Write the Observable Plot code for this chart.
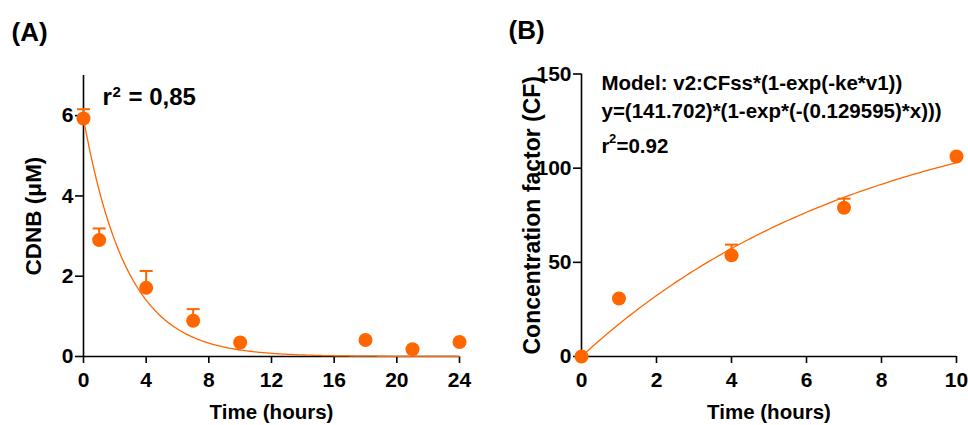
<!DOCTYPE html>
<html>
<head>
<meta charset="utf-8">
<script src="https://cdn.jsdelivr.net/npm/d3@7"></script>
<script src="https://cdn.jsdelivr.net/npm/@observablehq/plot@0.6"></script>
<style>
  html, body { margin: 0; padding: 0; background: #fff; }
  #wrap { display: flex; width: 968px; height: 425px; overflow: hidden; }
  #wrap svg { overflow: visible; }
</style>
</head>
<body>
<div id="wrap"><div id="a"></div><div id="b"></div></div>
<script>
// ---------- Panel A data ----------
const timeA = [0, 1, 4, 7, 10, 18, 21, 24];
const cdnb = [5.93, 2.90, 1.71, 0.89, 0.35, 0.41, 0.18, 0.36];
const cdnbErr = [0.23, 0.29, 0.42, 0.29, 0, 0, 0, 0];
const xTicksA = [0, 4, 8, 12, 16, 20, 24];
const yTicksA = [0, 2, 4, 6];
const fitA = {y0: 5.93, k: 0.36};
const r2A = ["r", "2", "= 0,85"];

// ---------- Panel B data ----------
const timeB = [0, 1, 4, 7, 10];
const cf = [0, 30.8, 53.7, 79.0, 106.2];
const cfErr = [0, 0, 5.7, 4.8, 0];
const xTicksB = [0, 2, 4, 6, 8, 10];
const yTicksB = [0, 50, 100, 150];
const fitB = {cfss: 141.702, ke: 0.129595};
const modelLines = [
  "Model: v2:CFss*(1-exp(-ke*v1))",
  "y=(141.702)*(1-exp*(-(0.129595)*x)))"
];
const r2B = ["r", "2", "=0.92"];

const ORANGE = "#ff6600";
const FONT = "'Liberation Sans', Arial, Helvetica, sans-serif";

// horizontal cap symbol for error bars
const capSymbol = {
  draw(context, size) {
    const w = Math.sqrt(size / Math.PI);
    context.moveTo(-w, 0);
    context.lineTo(w, 0);
  }
};

function panel({rows, curve, xDomain, yDomain, xTicks, yTicks, margins, xTitle, yTitle, letter, annotations}) {
  const bars = rows.filter(d => d.err > 0);
  return Plot.plot({
    width: 484,
    height: 425,
    ...margins,
    style: {fontFamily: FONT, fontWeight: "bold", fontSize: "21px", color: "black", background: "white", overflow: "visible"},
    x: {domain: xDomain},
    y: {domain: yDomain},
    marks: [
      Plot.axisX({ticks: xTicks, tickFormat: d3.format("d"), tickSize: 7, tickPadding: 9, strokeWidth: 1.6, label: null}),
      Plot.axisY({ticks: yTicks, tickFormat: d3.format("d"), tickSize: 8, tickPadding: 2, strokeWidth: 1.6, label: null}),
      Plot.ruleY([yDomain[0]], {strokeWidth: 1.6}),
      Plot.ruleX([xDomain[0]], {strokeWidth: 1.6}),
      Plot.line(curve, {x: "x", y: "y", stroke: ORANGE, strokeWidth: 1.3}),
      Plot.ruleX(bars, {x: "x", y1: "y", y2: d => d.y + d.err, stroke: ORANGE, strokeWidth: 2}),
      Plot.dot(bars, {x: "x", y: d => d.y + d.err, symbol: capSymbol, r: 6.5, stroke: ORANGE, strokeWidth: 2, fill: "none"}),
      Plot.dot(rows, {x: "x", y: "y", r: 7, fill: ORANGE, stroke: "none"}),
      Plot.text([xTitle], {frameAnchor: "bottom", lineAnchor: "top", dy: 48, fontSize: 20.5, fontWeight: "bold"}),
      Plot.text([yTitle.text], {frameAnchor: "left", textAnchor: "middle", lineAnchor: "top", rotate: -90, dx: -58, fontSize: yTitle.size, fontWeight: "bold"}),
      Plot.text([letter.text], {frameAnchor: "top-left", textAnchor: "start", lineAnchor: "top", dx: letter.dx, dy: -53, fontSize: 26, fontWeight: "bold"}),
      ...annotations.map(a => Plot.text([a.text], {frameAnchor: "top-left", textAnchor: "start", lineAnchor: "top", dx: a.dx, dy: a.dy, fontSize: a.size, fontWeight: "bold"}))
    ]
  });
}

const rowsA = timeA.map((t, i) => ({x: t, y: cdnb[i], err: cdnbErr[i]}));
const curveA = d3.range(0, 24.001, 0.1).map(t => ({x: t, y: fitA.y0 * Math.exp(-fitA.k * t)}));
const rowsB = timeB.map((t, i) => ({x: t, y: cf[i], err: cfErr[i]}));
const curveB = d3.range(0, 10.001, 0.1).map(t => ({x: t, y: fitB.cfss * (1 - Math.exp(-fitB.ke * t))}));

document.getElementById("a").append(panel({
  rows: rowsA, curve: curveA,
  xDomain: [0, 24], yDomain: [0, 7],
  xTicks: xTicksA, yTicks: yTicksA,
  margins: {marginLeft: 83, marginRight: 25, marginTop: 75, marginBottom: 69},
  xTitle: "Time (hours)",
  yTitle: {text: "CDNB (μM)", size: 22.5},
  letter: {text: "(A)", dx: -72},
  annotations: [
    {text: r2A[0], dx: 19, dy: 12, size: 24},
    {text: r2A[1], dx: 29, dy: 11, size: 15},
    {text: r2A[2], dx: 45, dy: 12, size: 24}
  ]
}));

document.getElementById("b").append(panel({
  rows: rowsB, curve: curveB,
  xDomain: [0, 10], yDomain: [0, 150],
  xTicks: xTicksB, yTicks: yTicksB,
  margins: {marginLeft: 97, marginRight: 12, marginTop: 73.5, marginBottom: 69},
  xTitle: "Time (hours)",
  yTitle: {text: "Concentration factor (CF)", size: 23},
  letter: {text: "(B)", dx: -73},
  annotations: [
    {text: modelLines[0], dx: 20, dy: 1.5, size: 20.5},
    {text: modelLines[1], dx: 20, dy: 29, size: 20.5},
    {text: r2B[0], dx: 20, dy: 64, size: 20.5},
    {text: r2B[1], dx: 27.5, dy: 60, size: 13},
    {text: r2B[2], dx: 35, dy: 64, size: 20.5}
  ]
}));
</script>
</body>
</html>
